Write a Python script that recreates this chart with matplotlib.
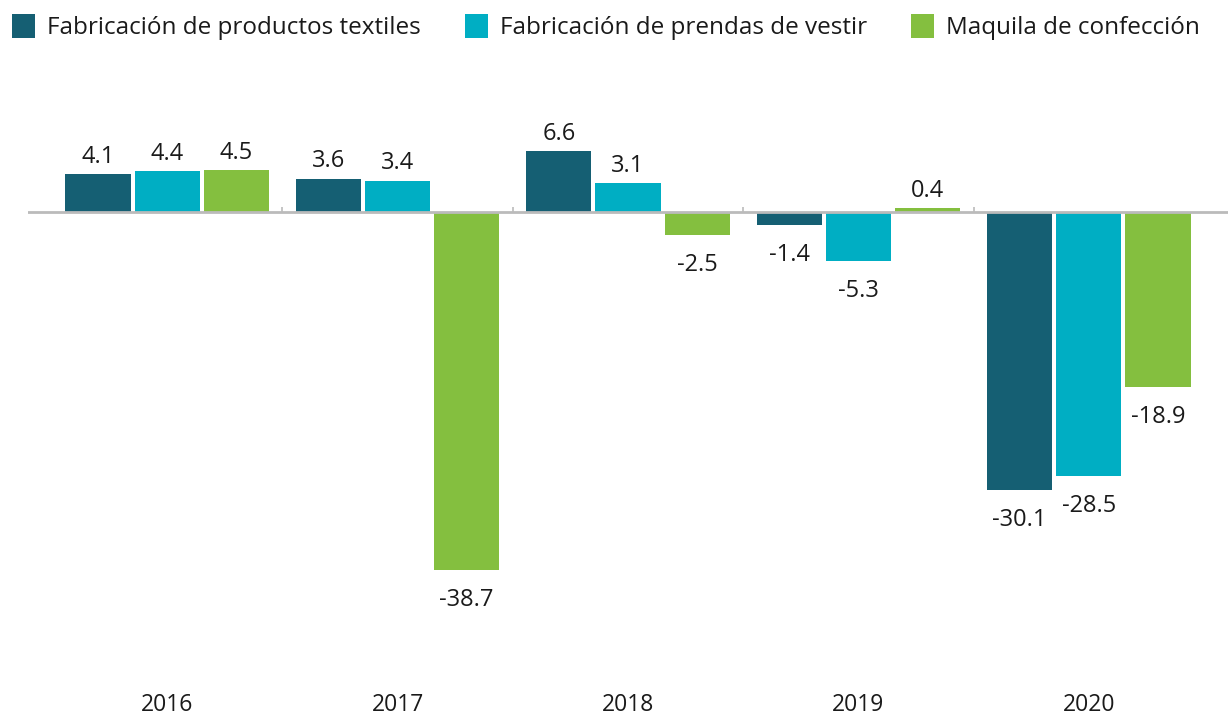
import numpy as np
import matplotlib
matplotlib.use("Agg")
from matplotlib import pyplot as plt

years = ["2016", "2017", "2018", "2019", "2020"]
series = ["Fabricación de productos textiles", "Fabricación de prendas de vestir", "Maquila de confección"]
textiles = [4.1, 3.6, 6.6, -1.4, -30.1]
prendas = [4.4, 3.4, 3.1, -5.3, -28.5]
maquila = [4.5, -38.7, -2.5, 0.4, -18.9]
colors = ["#155f73", "#00aec3", "#84bf3f"]

fig = plt.figure(figsize=(12.28, 7.15), dpi=100)
ax = fig.add_axes([28 / 1228, 25 / 715, 1200 / 1228, 630 / 715])

x = np.arange(len(years))
step = 0.3
width = 0.283
lab_font = dict(fontsize=17, family="Open Sans", color="#1a1a1a")
for i, (vals, col, name) in enumerate(zip([textiles, prendas, maquila], colors, series)):
    pos = x + (i - 1) * step
    ax.bar(pos, vals, width=width, color=col, label=name, zorder=2)
    for p, v in zip(pos, vals):
        if v >= 0:
            ax.annotate(f"{v}", (p, v), xytext=(0, 4), textcoords="offset points",
                        ha="center", va="bottom", **lab_font)
        else:
            ax.annotate(f"{v}", (p, v), xytext=(0, -13), textcoords="offset points",
                        ha="center", va="top", **lab_font)

ax.axhline(0, color="#bbbbbb", lw=2, zorder=3)
ax.vlines(x[:-1] + 0.5, 0, 0.55, color="#bbbbbb", lw=1.2, zorder=3)

ax.set_xlim(-0.5 - 0.104, len(years) - 0.5 + 0.104)
ax.set_ylim(-51.7, 16.45)
ax.set_xticks(x)
ax.set_xticklabels(years, fontsize=16.5, family="Open Sans", color="#1a1a1a")
ax.tick_params(axis="x", length=0, pad=2)
ax.set_yticks([])
for s in ax.spines.values():
    s.set_visible(False)

fig.legend(loc="upper left", bbox_to_anchor=(0.0, 0.997), ncol=3, frameon=False,
           prop={"family": "Open Sans", "size": 17.5},
           handlelength=0.95, handleheight=1.1, handletextpad=0.5,
           columnspacing=1.8, borderaxespad=0.2, borderpad=0.3, labelcolor="#1a1a1a")

fig.savefig("out.png", dpi=100)
